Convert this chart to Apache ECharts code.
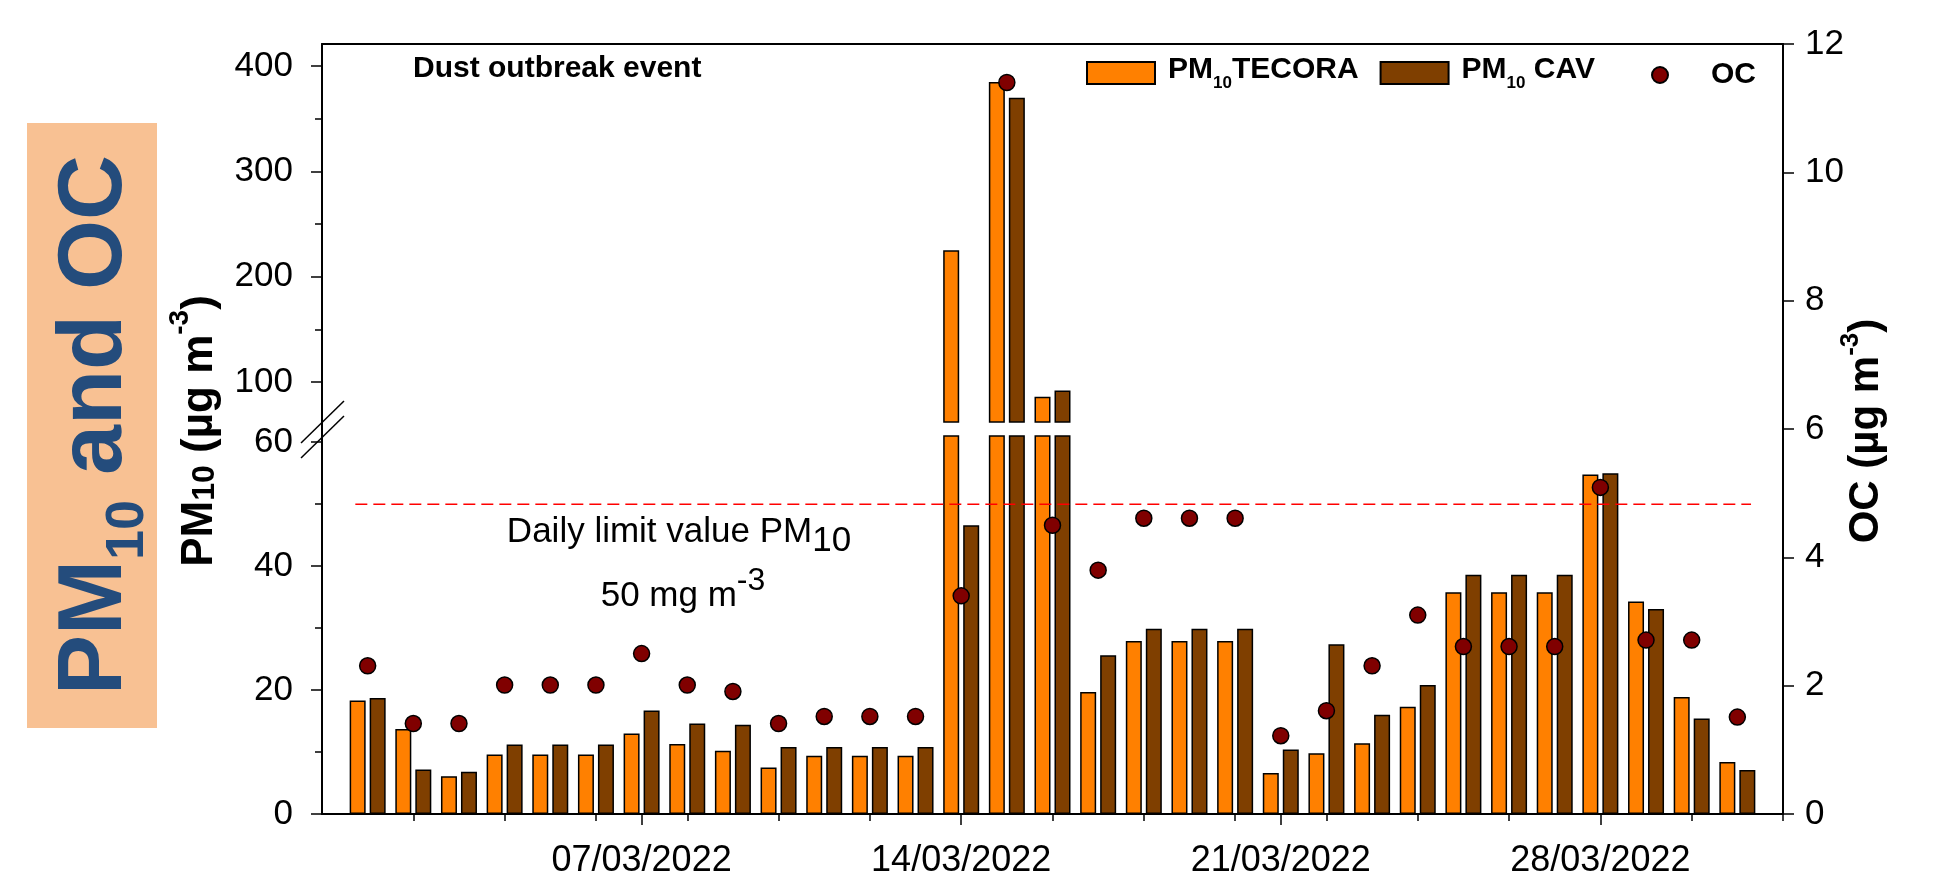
<!DOCTYPE html>
<html lang="en" style="height: 100%">
<head>
<meta charset="utf-8">
<title>PM10 and OC - dust outbreak, March 2022</title>
</head>
<body style="height: 100%; margin: 0">
<div id="container" style="width: 1941px; height: 872px"></div>

<script type="text/javascript" src="https://cdn.jsdelivr.net/npm/echarts@6/dist/echarts.min.js"></script>

<script type="text/javascript">
var dom = document.getElementById('container');
var myChart = echarts.init(dom);

// day of March 2022 (0 = 28/02, 32 = 01/04 on the axis)
var days = [1, 2, 3, 4, 5, 6, 7, 8, 9, 10, 11, 12, 13, 14, 15, 16,
  17, 18, 19, 20, 21, 22, 23, 24, 25, 26, 27, 28, 29, 30, 31];
var majorDays = [7, 14, 21, 28];
var minorDays = [2, 4, 6, 8, 10, 12, 16, 18, 20, 22, 24, 26, 30, 32];

// broken left axis: lower part 0-60, upper part 100-400
var lowTicks = [0, 20, 40, 60];
var lowMinorTicks = [10, 30, 50];
var highTicks = [100, 200, 300, 400];
var highMinorTicks = [150, 250, 350];

var pm10Tecora = [18.3, 13.7, 6.1, 9.6, 9.6, 9.6, 13.0, 11.3, 10.2, 7.5, 9.4, 9.4, 9.4,
  225, 385, 86, 19.7, 27.9, 27.9, 27.9, 6.6, 9.8, 11.4, 17.3, 35.8, 35.8, 35.8,
  54.8, 34.3, 18.9, 8.4];
var pm10Cav = [18.7, 7.2, 6.8, 11.2, 11.2, 11.2, 16.7, 14.6, 14.4, 10.8, 10.8, 10.8, 10.8,
  46.6, 370, 92, 25.6, 29.9, 29.9, 29.9, 10.4, 27.4, 16.0, 20.8, 38.6, 38.6, 38.6,
  55.0, 33.1, 15.4, 7.1];
var oc = [2.31, 1.41, 1.41, 2.01, 2.01, 2.01, 2.50, 2.01, 1.91, 1.41, 1.52, 1.52, 1.52,
  3.40, 11.40, 4.50, 3.80, 4.61, 4.61, 4.61, 1.22, 1.61, 2.31, 3.10, 2.61, 2.61, 2.61,
  5.09, 2.71, 2.71, 1.51];

var limitValue = 50;
var limitSpan = [0.73, 31.3];

var FONT = "'Liberation Sans', Arial, sans-serif";

function pairs(vals) {
  return days.map(function (d, i) { return [d, vals[i]]; });
}
function dateLabel(v) {
  return (v < 10 ? '0' : '') + v + '/03/2022';
}

var blackLine = { color: '#000', width: 2 };
var tickLine = { color: '#000', width: 1.5 };
var labelStyle = { fontSize: 35, color: '#000', fontFamily: FONT };

var barCommon = {
  type: 'bar',
  barWidth: 16,
  barGap: '25%',
  clip: true
};
var tecoraStyle = { color: '#FF8000', borderColor: '#000', borderWidth: 1.5 };
var cavStyle = { color: '#7F3F00', borderColor: '#000', borderWidth: 1.5 };

var legendRich = {
  t: { fontSize: 30, fontWeight: 'bold', fontFamily: FONT, color: '#000' },
  s: { fontSize: 17, fontWeight: 'bold', fontFamily: FONT, color: '#000', padding: [26, 0, 0, 0] }
};

var option = {
  animation: false,
  textStyle: { fontFamily: FONT },
  grid: [
    { left: 322, right: 158, top: 436, bottom: 58, outerBoundsMode: 'none' },
    { left: 322, right: 158, top: 44, bottom: 450, outerBoundsMode: 'none' },
    { left: 322, right: 158, top: 44, bottom: 58, outerBoundsMode: 'none' }
  ],
  xAxis: [
    {
      gridIndex: 0, type: 'value', min: 0, max: 32, position: 'bottom',
      axisLine: { show: true, onZero: false, lineStyle: blackLine },
      axisTick: { show: true, customValues: majorDays, length: 11, lineStyle: tickLine },
      axisLabel: { customValues: majorDays, formatter: dateLabel, margin: 29, fontSize: 36, color: '#000', fontFamily: FONT },
      splitLine: { show: false }
    },
    {
      gridIndex: 0, type: 'value', min: 0, max: 32, position: 'bottom',
      axisLine: { show: false, onZero: false },
      axisTick: { show: true, customValues: minorDays, length: 7, lineStyle: tickLine },
      axisLabel: { show: false },
      splitLine: { show: false }
    },
    { gridIndex: 1, type: 'value', min: 0, max: 32, show: false },
    {
      gridIndex: 2, type: 'value', min: 0, max: 32, position: 'top',
      axisLine: { show: true, onZero: false, lineStyle: blackLine },
      axisTick: { show: false },
      axisLabel: { show: false },
      splitLine: { show: false }
    }
  ],
  yAxis: [
    {
      gridIndex: 0, type: 'value', min: 0, max: 61, position: 'left',
      axisLine: { show: false, onZero: false },
      axisTick: { show: true, customValues: lowTicks, length: 11, lineStyle: tickLine },
      axisLabel: Object.assign({ customValues: lowTicks, margin: 29 }, labelStyle),
      splitLine: { show: false }
    },
    {
      gridIndex: 0, type: 'value', min: 0, max: 61, position: 'left',
      axisLine: { show: false, onZero: false },
      axisTick: { show: true, customValues: lowMinorTicks, length: 7, lineStyle: tickLine },
      axisLabel: { show: false },
      splitLine: { show: false }
    },
    {
      gridIndex: 1, type: 'value', min: 62, max: 421, position: 'left',
      axisLine: { show: false, onZero: false },
      axisTick: { show: true, customValues: highTicks, length: 11, lineStyle: tickLine },
      axisLabel: Object.assign({ customValues: highTicks, margin: 29 }, labelStyle),
      splitLine: { show: false }
    },
    {
      gridIndex: 1, type: 'value', min: 62, max: 421, position: 'left',
      axisLine: { show: false, onZero: false },
      axisTick: { show: true, customValues: highMinorTicks, length: 7, lineStyle: tickLine },
      axisLabel: { show: false },
      splitLine: { show: false }
    },
    {
      gridIndex: 2, type: 'value', min: 0, max: 12, position: 'left',
      axisLine: { show: true, onZero: false, lineStyle: blackLine },
      axisTick: { show: false },
      axisLabel: { show: false },
      splitLine: { show: false }
    },
    {
      gridIndex: 2, type: 'value', min: 0, max: 12, interval: 2, position: 'right',
      axisLine: { show: true, onZero: false, lineStyle: blackLine },
      axisTick: { show: true, length: 11, lineStyle: tickLine },
      axisLabel: Object.assign({ margin: 22 }, labelStyle),
      splitLine: { show: false }
    }
  ],
  legend: [
    {
      data: ['PM10TECORA', 'PM10 CAV'],
      left: 1081, top: 50,
      itemWidth: 68, itemHeight: 22, itemGap: 21,
      icon: 'rect',
      selectedMode: false,
      formatter: function (name) {
        return '{t|PM}{s|10}{t|' + name.replace('PM10', '') + '}';
      },
      textStyle: { fontSize: 30, fontWeight: 'bold', color: '#000', padding: [0, 0, 6, 8], rich: legendRich }
    },
    {
      data: ['OC'],
      left: 1646, top: 55,
      itemWidth: 16, itemHeight: 16,
      icon: 'circle',
      selectedMode: false,
      textStyle: { fontSize: 30, fontWeight: 'bold', color: '#000', padding: [0, 0, 0, 38] }
    }
  ],
  series: [
    Object.assign({ name: 'PM10TECORA', xAxisIndex: 0, yAxisIndex: 0, data: pairs(pm10Tecora), itemStyle: tecoraStyle }, barCommon),
    Object.assign({ name: 'PM10 CAV', xAxisIndex: 0, yAxisIndex: 0, data: pairs(pm10Cav), itemStyle: cavStyle }, barCommon),
    Object.assign({ name: 'PM10TECORA', xAxisIndex: 2, yAxisIndex: 2, data: pairs(pm10Tecora), itemStyle: tecoraStyle }, barCommon),
    Object.assign({ name: 'PM10 CAV', xAxisIndex: 2, yAxisIndex: 2, data: pairs(pm10Cav), itemStyle: cavStyle }, barCommon),
    {
      type: 'line', xAxisIndex: 0, yAxisIndex: 0, silent: true, z: 5,
      data: [[limitSpan[0], limitValue], [limitSpan[1], limitValue]],
      symbol: 'none',
      lineStyle: { color: '#FF0000', width: 1.5, type: [12, 6] }
    },
    {
      name: 'OC', type: 'scatter', xAxisIndex: 3, yAxisIndex: 5, z: 6,
      data: pairs(oc),
      symbolSize: 16,
      itemStyle: { color: '#800000', borderColor: '#000', borderWidth: 1.5, opacity: 1 }
    }
  ],
  graphic: [
    // side panel
    { type: 'rect', shape: { x: 27, y: 123, width: 130, height: 605 }, style: { fill: '#F8C193' } },
    {
      type: 'text', x: 96, y: 425, rotation: Math.PI / 2,
      style: {
        text: '{m|PM}{s|10}{m| and OC}',
        align: 'center', verticalAlign: 'middle',
        rich: {
          m: { fontSize: 90, fontWeight: 'bold', fontFamily: FONT, fill: '#244C7C' },
          s: { fontSize: 54, fontWeight: 'bold', fontFamily: FONT, fill: '#244C7C', padding: [64, 0, 0, 0] }
        }
      }
    },
    // left axis title
    {
      type: 'text', x: 200, y: 431, rotation: Math.PI / 2,
      style: {
        text: '{b|PM}{s|10}{b| (µg m}{p|-3}{b|)}',
        align: 'center', verticalAlign: 'middle',
        rich: {
          b: { fontSize: 44, fontWeight: 'bold', fontFamily: FONT, fill: '#000' },
          s: { fontSize: 32, fontWeight: 'bold', fontFamily: FONT, fill: '#000', padding: [11, 0, 0, 0] },
          p: { fontSize: 28, fontWeight: 'bold', fontFamily: FONT, fill: '#000', padding: [0, 0, 40, 0] }
        }
      }
    },
    // right axis title
    {
      type: 'text', x: 1866, y: 431, rotation: Math.PI / 2,
      style: {
        text: '{b|OC (µg m}{p|-3}{b|)}',
        align: 'center', verticalAlign: 'middle',
        rich: {
          b: { fontSize: 42, fontWeight: 'bold', fontFamily: FONT, fill: '#000' },
          p: { fontSize: 26, fontWeight: 'bold', fontFamily: FONT, fill: '#000', padding: [0, 0, 30, 0] }
        }
      }
    },
    // axis break marks
    { type: 'line', shape: { x1: 301, y1: 443, x2: 344, y2: 401 }, style: { stroke: '#000', lineWidth: 1.5 }, z: 10 },
    { type: 'line', shape: { x1: 301, y1: 458, x2: 344, y2: 416 }, style: { stroke: '#000', lineWidth: 1.5 }, z: 10 },
    // annotations
    {
      type: 'text', x: 413, y: 69,
      style: { text: 'Dust outbreak event', fontSize: 30, fontWeight: 'bold', fontFamily: FONT, fill: '#000', align: 'left', verticalAlign: 'middle' }
    },
    {
      type: 'text', x: 679, y: 532,
      style: {
        text: '{r|Daily limit value PM}{s|10}',
        align: 'center', verticalAlign: 'middle',
        rich: {
          r: { fontSize: 35, fontFamily: FONT, fill: '#000' },
          s: { fontSize: 35, fontFamily: FONT, fill: '#000', padding: [18, 0, 0, 0] }
        }
      }
    },
    {
      type: 'text', x: 683, y: 596,
      style: {
        text: '{r|50 mg m}{p|-3}',
        align: 'center', verticalAlign: 'middle',
        rich: {
          r: { fontSize: 35, fontFamily: FONT, fill: '#000' },
          p: { fontSize: 32, fontFamily: FONT, fill: '#000', padding: [0, 0, 30, 0] }
        }
      }
    }
  ]
};

if (option && typeof option === 'object') {
  myChart.setOption(option);
}

window.addEventListener('resize', myChart.resize);
</script>
</body>
</html>
